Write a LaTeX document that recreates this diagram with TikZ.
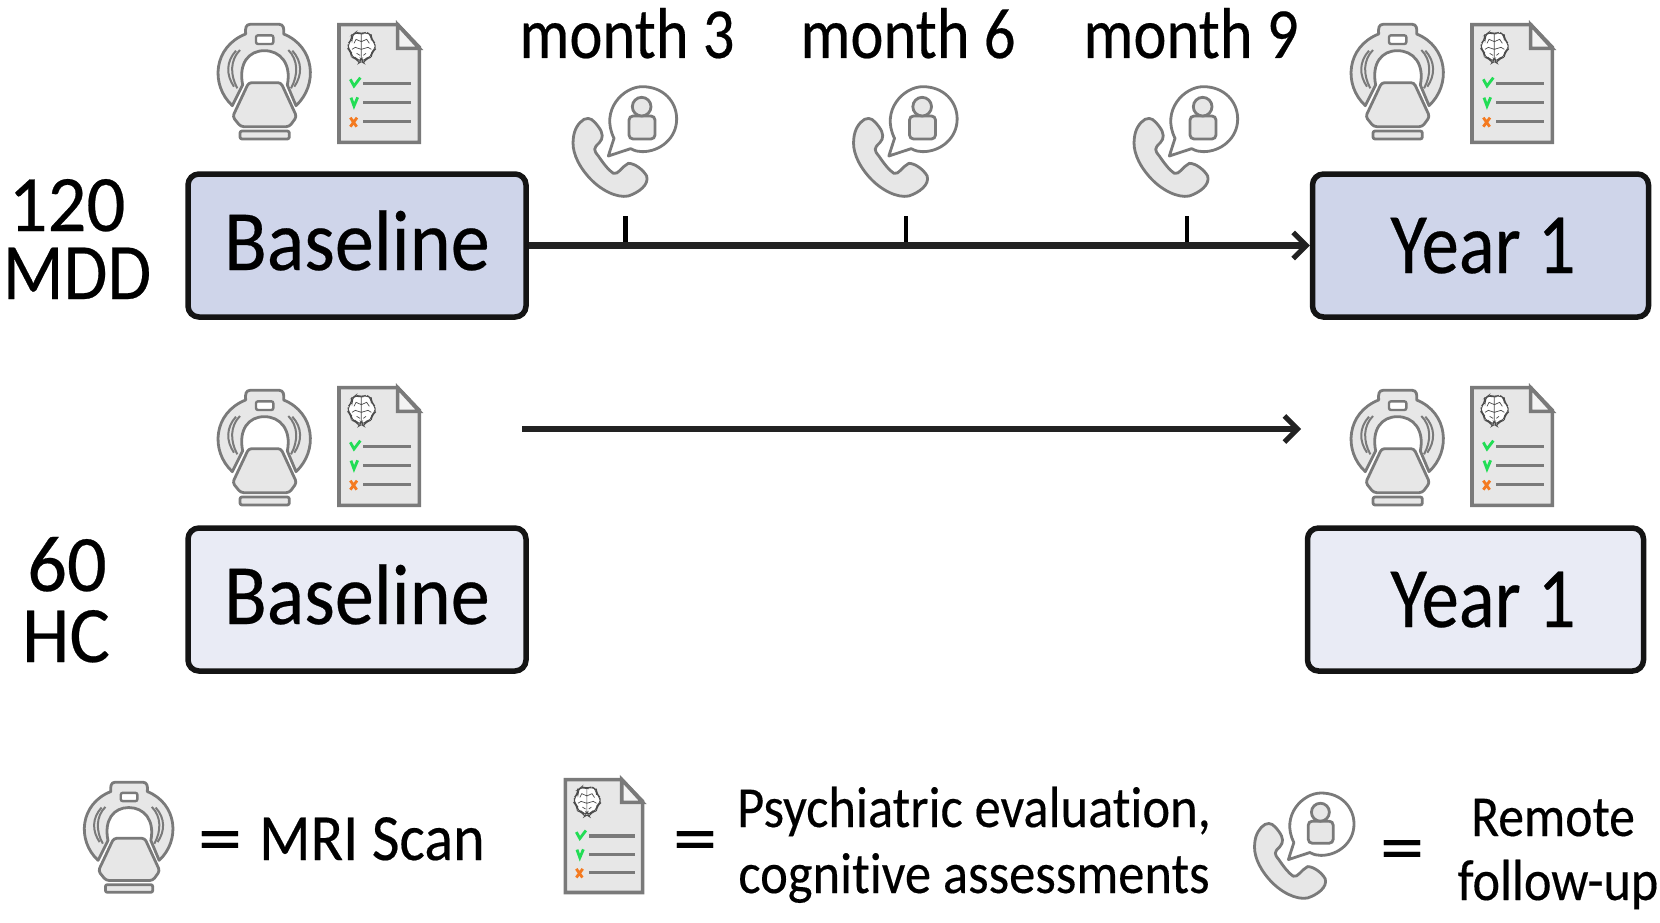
\documentclass[tikz,border=0pt]{standalone}
\usepackage{fontspec}
\usetikzlibrary{arrows.meta}
\newcommand{\fs}[2]{\fontspec[FakeStretch=#2,FakeBold=0.3,Ligatures=NoCommon]{Carlito}\fontsize{#1}{#1}\selectfont}
\definecolor{icg}{HTML}{7A7A7A}
\definecolor{icf}{HTML}{E7E7E7}
\definecolor{ok}{HTML}{22DD55}
\definecolor{bad}{HTML}{F47A20}
\definecolor{boxa}{HTML}{CFD5EA}
\definecolor{boxb}{HTML}{E9EBF5}
\definecolor{ink}{HTML}{222222}
\tikzset{
  iconline/.style={draw=icg,fill=icf,line width=2.8pt,line join=round},
  thinline/.style={draw=icg,line width=3.4pt},
  mainbox/.style={draw=black!92,line width=5.5pt,rounded corners=11pt,minimum height=143pt,inner sep=0pt},
  lab/.style={anchor=base,inner sep=0pt,text=black},
  flow/.style={draw=ink,line width=6.5pt,-{Straight Barb[length=13pt,width=26pt,line width=5pt]}},
  mri/.pic={
    \begin{scope}[scale=1/3]
      \path[iconline] (97,287) .. controls (30,225) and (40,110) .. (137,72)
        .. controls (135,55) and (138,43) .. (150,43) -- (238,43)
        .. controls (250,43) and (253,55) .. (251,72)
        .. controls (345,110) and (355,225) .. (288,287)
        -- (262,225) .. controls (275,160) and (240,122) .. (193,122)
        .. controls (146,122) and (115,160) .. (128,225) -- cycle;
      \path[draw=icg,fill=white,line width=2.4pt,rounded corners=2pt] (168,76) rectangle (220,102);
      \draw[icg,line width=2pt] (120,120) .. controls (90,150) and (90,195) .. (112,235);
      \draw[icg,line width=2pt] (108,122) .. controls (78,155) and (78,195) .. (102,230);
      \draw[icg,line width=2pt] (265,120) .. controls (295,150) and (295,195) .. (273,235);
      \draw[icg,line width=2pt] (277,122) .. controls (307,155) and (307,195) .. (283,230);
      \path[iconline,rounded corners=3pt] (146,218) -- (243,218) -- (290,320) -- (268,350) -- (122,350) -- (98,320) -- cycle;
      \path[iconline,rounded corners=2pt] (120,363) rectangle (268,387);
    \end{scope}},
  doc/.pic={
    \begin{scope}[scale=1/3]
      \path[iconline,line join=miter,line width=3.6pt] (417,44) -- (593,44) -- (658,112) -- (658,397) -- (417,397) -- cycle;
      \path[draw=icg,fill=icf!50!white,line width=3.6pt,line join=miter] (593,44) -- (593,115) -- (658,115) -- cycle;
      \draw[draw=black!70,fill=white,line width=.8pt,rounded corners=5pt]
        (483,72) -- (468,66) -- (455,76) -- (456,88) -- (444,100) -- (445,118) -- (453,126) -- (454,142) -- (470,146) -- (477,158) -- (484,148)
        -- (491,158) -- (498,146) -- (514,142) -- (516,126) -- (526,118) -- (526,100) -- (514,88) -- (514,76) -- (500,66) -- cycle;
      \draw[black!70,line width=.7pt] (484,72) -- (484,148)
        (484,95) -- (468,88) -- (462,100) (484,118) -- (466,112) -- (456,118) (470,130) -- (480,136)
        (484,95) -- (500,88) -- (508,100) (484,118) -- (504,112) -- (514,118) (498,130) -- (490,136);
      \draw[ok,line width=2.8pt] (451,208) -- (462,228) -- (481,203);
      \draw[ok,line width=2.8pt] (453,263) -- (462,288) -- (473,262);
      \draw[bad,line width=2.8pt] (451,323) -- (470,350) (471,323) -- (451,350);
      \draw[thinline] (490,220) -- (634,220);
      \draw[thinline] (490,278) -- (634,278);
      \draw[thinline] (490,334) -- (634,334);
    \end{scope}},
  phone/.pic={
    \begin{scope}[scale=1/3]
      \path[draw=icg,fill=white,line width=2.8pt,line join=round]
        (162,205) .. controls (120,120) and (190,50) .. (247,50)
        .. controls (310,50) and (350,95) .. (350,147)
        .. controls (350,205) and (300,245) .. (247,245)
        .. controls (235,245) and (225,243) .. (212,236)
        -- (145,258) -- cycle;
      \path[draw=icg,fill=icf,line width=2.8pt,rounded corners=4pt] (207,207) -- (207,138) -- (285,138) -- (285,207) -- cycle;
      \path[draw=icg,fill=icf,line width=2.8pt] (245,110) circle[radius=28];
      \path[iconline] (72,148) .. controls (90,140) and (100,150) .. (115,170)
        .. controls (130,190) and (130,205) .. (118,218)
        .. controls (100,235) and (100,240) .. (115,258)
        .. controls (130,280) and (145,300) .. (160,310)
        .. controls (175,315) and (185,290) .. (205,280)
        .. controls (225,280) and (250,300) .. (260,318)
        .. controls (268,345) and (235,368) .. (205,378)
        .. controls (170,385) and (120,360) .. (85,320)
        .. controls (50,280) and (35,240) .. (40,205)
        .. controls (42,180) and (55,158) .. (72,148) -- cycle;
    \end{scope}},
}
\begin{document}
\begin{tikzpicture}[x=1pt,y=-1pt]
\useasboundingbox (0,0) rectangle (1660,923);

% boxes
\node[mainbox,fill=boxa,minimum width=338pt] (b1) at (357,245.5) {};
\node[mainbox,fill=boxa,minimum width=336pt] (y1) at (1480.5,245.5) {};
\node[mainbox,fill=boxb,minimum width=338pt] (b2) at (357,599.5) {};
\node[mainbox,fill=boxb,minimum width=336pt] (y2) at (1475.5,599.5) {};
\node[lab,font=\fs{86}{.91}] (tb1) at (357,270) {Baseline};
\node[lab,font=\fs{86}{.87}] (ty1) at (1483,273) {Year 1};
\node[lab,font=\fs{86}{.91}] (tb2) at (357,624) {Baseline};
\node[lab,font=\fs{86}{.87}] (ty2) at (1483,627) {Year 1};

% group labels
\node[lab,font=\fs{80}{.96}] (n120) at (67,231) {120};
\node[lab,font=\fs{80}{.89}] (nmdd) at (77,299) {MDD};
\node[lab,font=\fs{80}{.98}] (n60) at (67,591) {60};
\node[lab,font=\fs{80}{.95}] (nhc) at (66,662) {HC};

% timeline
\coordinate (t3) at (625.5,245);
\coordinate (t6) at (906,245);
\coordinate (t9) at (1187,245);
\coordinate (t3u) at (625.5,216);
\coordinate (t6u) at (906,216);
\coordinate (t9u) at (1187,216);
\draw[black,line width=4.5pt] (t3) -- (t3u);
\draw[black,line width=4.5pt] (t6) -- (t6u);
\draw[black,line width=4.5pt] (t9) -- (t9u);
\draw[flow] (b1.east) -- (y1.west);
\coordinate (a2s) at (522,429);
\coordinate (a2e) at (1301,429);
\draw[flow] (a2s) -- (a2e);

\node[lab,font=\fs{72}{.87}] (m3) at (627,58) {month 3};
\node[lab,font=\fs{72}{.87}] (m6) at (908,58) {month 6};
\node[lab,font=\fs{72}{.87}] (m9) at (1191,58) {month 9};

% icons
\pic at (200,10) {mri};
\pic at (200,10) {doc};
\pic at (1333,10) {mri};
\pic at (1333,10) {doc};
\pic at (200,376) {mri};
\pic at (200,373) {doc};
\pic at (1333,376) {mri};
\pic at (1333,373) {doc};
\pic at (560,70) {phone};
\pic at (840.5,70) {phone};
\pic at (1121,70) {phone};

% legend
\pic[scale=.96] at (67,768.5) {mri};
\pic[scale=.96] at (432,765.5) {doc};
\pic[scale=.96] at (1242,777) {phone};
\node[lab,font=\fs{74}{1.2}] (leq1) at (220,863) {=};
\node[lab,font=\fs{66}{.91},anchor=base west] (lmri) at (259,860) {MRI Scan};
\node[lab,font=\fs{74}{1.2}] (leq2) at (695,863) {=};
\node[lab,font=\fs{58}{.905}] (lpsy) at (974,827) {Psychiatric evaluation,};
\node[lab,font=\fs{58}{.905}] (lcog) at (974,893) {cognitive assessments};
\node[lab,font=\fs{74}{1.2}] (leq3) at (1402,872) {=};
\node[lab,font=\fs{58}{.89}] (lrem) at (1553,836) {Remote};
\node[lab,font=\fs{58}{.90}] (lfol) at (1558,900) {follow-up};
\end{tikzpicture}
\end{document}
